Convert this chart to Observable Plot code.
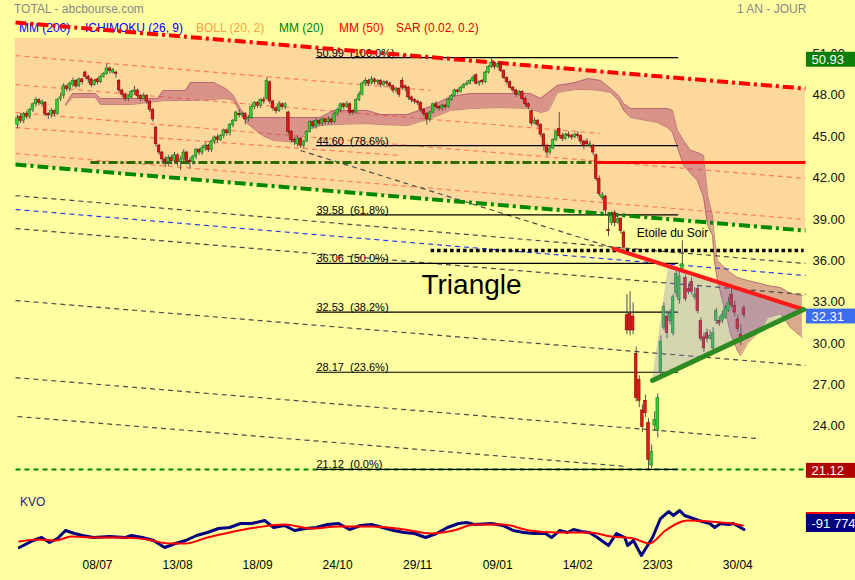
<!DOCTYPE html>
<html><head><meta charset="utf-8">
<script src="https://cdn.jsdelivr.net/npm/d3@7"></script>
<script src="https://cdn.jsdelivr.net/npm/@observablehq/plot@0.6"></script>
<style>
html,body{margin:0;padding:0;background:#ffffa2;}
#wrap{position:relative;width:855px;height:580px;background:#ffffa2;font-family:"Liberation Sans",Arial,sans-serif;overflow:hidden;}
.lbl{position:absolute;font-size:12px;white-space:nowrap;line-height:14px;z-index:0;}
#main,#kvo{position:relative;z-index:1;}
#main svg,#kvo svg{display:block;}
</style></head><body>
<div id="wrap">
 <div class="lbl" style="left:14px;top:2px;color:#888">TOTAL - abcbourse.com</div>
 <div class="lbl" style="left:737px;top:2px;color:#888">1 AN - JOUR</div>
 <div class="lbl" style="left:19px;top:21px;color:#0000ff">MM (200)</div>
 <div class="lbl" style="left:85px;top:21px;color:#0000ff">ICHIMOKU (26, 9)</div>
 <div class="lbl" style="left:196px;top:21px;color:#ffa040">BOLL (20, 2)</div>
 <div class="lbl" style="left:279px;top:21px;color:#008000">MM (20)</div>
 <div class="lbl" style="left:339px;top:21px;color:#ff0000">MM (50)</div>
 <div class="lbl" style="left:396px;top:21px;color:#dd0000">SAR (0.02, 0.2)</div>
 <div class="lbl" style="left:20px;top:495px;color:#1a1a80">KVO</div>
 <div id="main"></div><div id="kvo"></div>
</div>
<script>
// ---- daily candles (trading-day index 0..236) ----
const opens = [46.1,46.7,46.4,46.9,46.7,47.2,47.6,47.9,47.6,47.7,
46.9,46.8,47.1,46.9,48.0,48.2,48.9,48.7,49.0,49.3,
48.9,49.4,49.9,49.6,49.4,49.0,49.4,49.2,49.6,49.8,
50.2,49.9,49.9,49.3,48.6,48.3,48.0,48.1,48.5,48.6,
48.2,48.0,48.2,47.8,47.2,45.9,44.6,44.1,43.6,43.4,
43.7,43.5,43.9,43.4,43.6,44.1,43.5,43.4,43.8,44.3,
44.1,44.4,44.6,44.3,44.9,45.2,45.0,45.3,45.7,45.5,
46.1,46.4,46.9,46.8,46.9,46.5,46.6,47.4,47.7,47.5,
47.9,48.0,49.2,47.8,47.3,47.1,47.6,47.4,47.0,45.6,
45.0,44.7,45.1,44.6,44.9,45.6,46.3,46.0,46.4,46.2,
46.5,46.3,46.5,46.3,46.9,47.2,47.6,47.4,47.6,47.1,
47.0,47.9,48.3,49.1,49.3,49.1,49.4,49.2,49.3,49.0,
49.2,49.1,48.9,48.6,48.7,49.3,48.9,48.8,48.1,47.9,
47.8,47.7,47.2,46.9,46.5,47.0,47.6,47.4,47.3,47.5,
47.4,47.9,48.2,48.6,48.5,48.8,49.0,49.1,49.3,49.7,
49.1,49.3,49.2,49.9,50.3,50.6,50.3,50.5,50.0,49.5,
49.2,48.8,48.6,48.3,48.5,48.0,47.6,47.1,46.2,46.4,
46.1,45.4,44.6,44.1,44.4,45.0,45.8,45.3,45.1,45.4,
45.3,45.2,45.4,45.3,44.9,44.9,44.6,44.6,43.9,42.2,
40.8,40.9,38.5,39.0,39.7,39.0,39.3,38.3,32.3,32.4,
32.2,29.5,27.6,25.4,26.1,24.5,21.4,24.3,23.9,28.2,
31.4,32.2,31.9,31.0,33.9,33.4,35.6,35.0,34.2,34.7,
33.6,34.2,31.9,30.7,31.0,30.6,29.9,31.9,31.9,31.9,
32.1,32.6,33.8,33.0,32.0,30.9,32.8];
const highs = [46.8,46.9,47.0,47.1,47.3,47.7,48.1,48.0,47.9,47.8,
47.0,47.3,47.2,48.0,48.4,49.1,49.0,49.2,49.5,49.4,
49.5,49.5,50.0,49.7,49.5,49.4,49.5,49.7,49.9,50.5,
50.3,50.2,50.0,49.4,48.7,48.4,48.3,48.6,48.9,48.7,
48.3,48.4,48.3,47.9,47.3,46.0,44.7,44.2,43.8,43.9,
43.9,44.1,44.0,43.8,44.3,44.2,43.7,43.9,44.4,44.4,
44.6,44.8,44.7,45.0,45.3,45.4,45.4,45.8,45.8,46.2,
46.5,47.1,47.2,47.0,47.0,46.8,47.5,47.8,47.8,48.0,
48.1,49.5,49.3,47.9,47.4,47.8,47.7,47.7,47.1,45.7,
45.2,45.3,45.2,45.0,45.7,46.4,46.4,46.6,46.5,46.6,
46.6,46.7,46.6,47.0,47.3,47.7,47.7,47.8,47.7,47.2,
48.0,48.5,49.2,49.5,49.4,49.6,49.5,49.4,49.4,49.3,
49.3,49.2,49.0,48.8,48.8,49.5,49.0,48.9,48.2,48.0,
47.9,47.8,47.3,47.0,47.1,47.7,47.8,47.5,47.6,47.6,
48.0,48.3,48.7,48.7,48.9,49.1,49.3,49.4,49.7,49.8,
49.3,49.4,50.0,50.4,50.99,50.7,50.6,50.6,50.1,49.6,
49.3,48.9,48.7,48.6,48.6,48.1,47.7,47.2,46.6,46.5,
46.2,45.5,44.7,44.6,45.1,45.7,47.0,45.5,45.5,45.6,
45.4,45.5,45.6,45.4,45.0,45.1,44.9,44.7,44.0,42.4,
41.2,41.0,39.6,39.8,39.9,39.6,39.4,38.4,33.8,34.0,
33.2,30.0,27.9,25.8,26.5,24.8,22.9,25.3,26.6,30.8,
33.2,32.6,32.7,33.8,35.5,35.6,37.7,35.2,34.6,35.0,
34.3,34.5,32.1,31.0,31.3,31.2,31.4,32.8,32.2,32.6,
33.0,33.6,34.5,33.3,32.3,31.6,33.0];
const lows = [45.8,46.2,46.2,46.5,46.5,47.0,47.4,47.5,47.4,46.7,
46.5,46.6,46.7,46.8,47.8,48.0,48.5,48.5,48.8,48.7,
48.8,49.0,49.4,49.1,48.8,48.9,49.0,49.1,49.5,49.7,
49.8,49.8,49.5,48.4,48.1,47.8,47.8,48.0,48.3,48.0,
47.8,47.9,47.6,47.0,46.3,44.5,43.9,43.3,43.0,43.1,
43.2,43.3,43.1,42.8,43.4,43.2,42.9,43.2,43.6,43.9,
43.9,44.2,44.1,44.1,44.7,44.8,44.9,45.1,45.3,45.3,
45.9,46.3,46.6,46.6,46.1,46.3,46.5,47.2,47.3,47.3,
47.6,47.9,47.6,47.1,46.9,47.0,47.2,47.2,45.4,44.8,
44.6,44.5,44.4,44.4,44.8,45.5,45.8,45.8,46.0,46.0,
46.1,46.1,46.1,46.2,46.7,47.0,47.2,47.3,46.8,46.8,
46.9,47.8,48.2,48.9,48.9,49.0,49.0,49.0,48.8,48.9,
48.9,48.7,48.4,48.4,48.1,48.6,48.5,47.9,47.7,47.6,
47.5,47.0,46.7,46.1,46.3,46.9,47.2,47.1,47.1,47.2,
47.3,47.8,48.1,48.3,48.4,48.7,48.9,49.0,49.2,49.0,
48.9,49.0,49.1,49.8,50.2,50.1,50.2,49.9,49.4,49.0,
48.7,48.4,48.1,48.2,47.9,47.4,47.2,46.0,46.1,45.9,
45.2,44.2,43.8,43.9,44.3,44.9,45.1,44.9,45.0,45.1,
45.0,45.1,45.1,44.7,44.3,44.5,44.4,43.9,42.0,40.9,
40.6,39.6,38.0,38.8,38.7,38.9,38.2,36.9,30.9,30.8,
30.9,26.0,25.6,23.8,24.9,21.12,21.2,23.9,23.4,27.8,
31.2,30.6,31.6,30.8,33.6,33.1,35.5,33.3,33.8,33.8,
33.4,32.4,30.4,29.6,30.3,30.5,29.5,31.6,31.5,31.7,
32.0,32.5,32.8,32.2,31.1,30.1,32.1];
const closes = [46.6,46.4,46.9,46.7,47.2,47.6,47.9,47.7,47.8,46.9,
46.8,47.1,46.9,47.9,48.1,48.9,48.7,49.1,49.3,48.9,
49.4,49.2,49.6,49.4,49.0,49.3,49.2,49.6,49.8,50.2,
50.0,50.1,49.8,48.6,48.3,48.0,48.2,48.5,48.6,48.2,
48.0,48.2,47.8,47.2,46.5,44.7,44.1,43.6,43.4,43.7,
43.5,43.9,43.4,43.6,44.1,43.5,43.4,43.8,44.3,44.1,
44.4,44.6,44.3,44.9,45.2,45.0,45.3,45.7,45.5,46.1,
46.4,47.0,46.8,46.9,46.5,46.6,47.4,47.7,47.5,47.9,
47.8,49.3,47.8,47.3,47.1,47.6,47.4,47.6,45.6,45.0,
44.9,45.1,44.6,44.9,45.6,46.3,46.0,46.4,46.2,46.5,
46.3,46.5,46.3,46.9,47.2,47.6,47.4,47.6,47.0,47.0,
47.9,48.3,49.1,49.3,49.1,49.4,49.2,49.3,49.0,49.2,
49.1,48.9,48.6,48.7,48.3,48.8,48.8,48.1,47.9,47.8,
47.7,47.2,46.9,46.5,47.0,47.6,47.4,47.3,47.5,47.4,
47.9,48.2,48.6,48.5,48.8,49.0,49.1,49.3,49.5,49.1,
49.2,49.2,49.9,50.3,50.6,50.3,50.5,50.0,49.5,49.2,
48.8,48.6,48.3,48.5,48.0,47.6,47.4,46.2,46.4,46.1,
45.4,44.6,44.1,44.4,45.0,45.6,45.3,45.1,45.4,45.3,
45.2,45.4,45.3,44.9,44.6,44.7,44.7,44.1,42.2,41.1,
41.0,39.9,38.4,39.5,39.0,39.3,38.4,37.2,31.2,31.2,
31.2,26.3,26.1,24.2,25.2,21.8,22.4,24.7,26.3,30.4,
32.9,31.0,32.4,33.6,35.3,35.1,36.0,33.5,34.0,34.0,
33.8,32.6,30.6,29.9,30.6,30.8,31.0,32.6,31.7,32.3,
32.8,33.2,33.0,32.5,31.3,30.5,32.31];

// ---- x axis (tick every 26 sessions) ----
const tickIdx = [26,52,78,104,130,156,182,208,234];
const tickLabels = ["08/07","13/08","18/09","24/10","29/11","09/01","14/02","23/03","30/04"];

// ---- Ichimoku cloud vertices (index, top, bottom) ----
const cloudIdx = [15.6,17.9,25.3,27.0,36.7,45.5,47.4,54.6,56.2,63.7,67.6,70.2,72.4,74.7,79.6,83.2,91.9,93.6,98.4,102.7,113.7,117.9,126.7,134.2,140.7,147.2,156.9,166.7,169.9,172.5,175.4,181.3,185.5,189.4,192.7,195.3,196.9,199.2,207.9,211.2,212.8,214.4,216.4,218.7,220.9,222.9,224.2,225.8,226.4,227.4,229.0,230.7,231.6,233.9,234.9,237.2,241.4,243.7,247.9,251.1,255.0];
const cloudTop = [47.58,48.38,48.38,48.02,48.02,48.02,48.60,48.60,49.18,49.18,48.74,48.23,47.29,46.64,46.64,46.64,46.64,46.64,46.64,47.15,47.15,46.86,46.86,47.44,48.16,48.38,48.38,48.38,48.02,48.45,48.96,49.18,49.47,49.32,48.74,48.23,47.65,47.29,47.29,47.29,47.15,45.70,44.97,44.25,44.10,43.88,40.98,39.53,38.08,36.27,35.91,35.54,35.40,35.04,34.97,34.82,34.60,34.46,34.31,33.88,33.73];
const cloudBot = [47.51,48.09,48.09,47.58,47.58,47.80,47.87,47.87,47.87,47.94,48.02,47.87,47.00,46.20,45.33,44.97,44.83,45.70,46.06,46.13,46.20,46.13,46.06,46.57,47.15,47.29,47.36,47.29,47.00,47.15,48.45,48.67,48.67,48.60,48.45,47.87,47.15,46.64,46.28,45.91,45.55,44.46,43.16,42.58,42.07,40.84,38.81,38.08,36.27,34.82,33.37,31.92,30.98,29.74,29.38,30.25,31.19,32.13,32.42,31.41,30.69];

// ---- drawn trend lines [x1, price1, x2, price2] ----
const channelTop = [-0.65,53.53,256,48.74];
const channelBottom = [-0.65,43.23,256,38.44];
const salmonLines = [[-0.65,51.13,134.2,48.60],[-0.65,49.03,189.4,45.48],[-0.65,47.00,256,42.22],[-0.65,44.03,256,39.24],[-0.65,45.91,124.4,43.88]];
const grayLines = [[-0.65,40.98,256,36.05],[-0.65,38.59,256,33.80],[-0.65,33.37,256,28.66],[-0.65,27.78,240.4,23.36],[0,24.96,198.2,21.33],[91.9,44.25,194.3,37.14]];
const blueLines = [[-0.65,39.97,256,35.18]];
const levelGreen = [[23.7,43.38,188.4,43.38]];
const levelRed = [[188.4,43.38,256,43.38]];
const dottedLevel = [[134.2,36.99,255.4,36.99]];
const supportLevel = [[-0.65,21.12,256,21.12]];
const triRed = [[193.6,37.14,255.4,32.72]];
const triGreen = [[206.3,27.57,255.4,32.72]];
const triApexX = 211.5;

// ---- Fibonacci retracement ----
const fibLevels = [50.99,44.60,39.58,36.06,32.53,28.17,21.12];
const fibPct = ["100.0%","78.6%","61.8%","50.0%","38.2%","23.6%","0.0%"];
const fibFrom = 97.1, fibTo = 214.8;

// ---- right axis ----
const priceTicks = [24,27,30,33,36,39,42,45,48,51];
const valueBoxes = [{v:50.93,color:"#0b7d0b"},{v:32.31,color:"#3d6ef0"},{v:21.12,color:"#b00000"}];

// ---- KVO ----
const kvoIdx = [0.6,5.1,7.8,10.4,13.0,15.6,18.5,21.1,24.7,29.9,35.1,37.0,40.6,44.2,47.8,51.3,54.6,58.2,61.7,65.3,68.9,72.5,76.1,80.3,83.2,86.7,90.0,93.6,97.1,100.7,104.3,107.9,111.4,115.0,118.6,122.2,125.7,129.0,132.6,136.1,139.7,143.3,145.9,148.5,154.0,157.6,161.1,164.4,168.0,171.5,173.5,176.1,178.7,180.6,183.2,185.8,188.4,192.0,194.6,197.3,198.2,200.1,202.7,204.3,206.3,208.9,211.5,213.1,215.1,216.7,218.6,221.3,224.9,226.5,228.4,231.0,232.6,236];
const kvoVal = [-812,-532,-412,-612,-452,-132,-252,-332,-412,-372,-412,-332,-412,-532,-812,-652,-532,-332,-212,-52,-12,148,148,268,-12,68,-132,-52,-12,108,148,-92,68,108,-12,-132,-212,-252,-412,-252,-12,148,188,108,148,68,-132,-212,-252,-252,-412,-132,-212,-92,-172,-212,-412,-732,-252,-412,-732,-532,-1132,-812,-412,348,628,468,668,468,388,268,148,-12,148,108,148,-92];
const sigIdx = [0.6,6.8,12.4,17.5,24.7,33.5,42.2,49.4,54.6,61.7,68.9,77.7,86.7,95.5,104.3,115.0,125.7,134.5,141.7,148.5,157.6,166.4,175.1,185.8,193.0,200.1,205.3,210.5,217.7,224.9,232.0,235.6];
const sigVal = [-572,-492,-532,-372,-412,-412,-492,-652,-652,-412,-212,-12,108,-52,28,28,-92,-252,-132,108,108,-132,-212,-212,-372,-452,-652,-132,268,228,148,68];
const kvoLast = "-91 774";

// ================= build =================
const FONT = '"Liberation Sans", Arial, sans-serif';
const X0 = 0, X1 = 256, YMIN = 20.32, YMAX = 52.37;
const candles = closes.map((c,i)=>({i, o:opens[i], c, h:Math.max(highs[i],opens[i],c), l:Math.min(lows[i],opens[i],c)}));
const cloud = cloudIdx.map((x,i)=>({x, top:cloudTop[i], bot:cloudBot[i]}));
const at = (L,x)=> L[1] + (x-L[0])/(L[2]-L[0])*(L[3]-L[1]);
const xCross = channelTop[0] + (channelTop[1]-YMAX)/(channelTop[1]-channelTop[3])*(channelTop[2]-channelTop[0]);
const channelFill = [channelTop[0], xCross, channelTop[2]].map(x=>({x, hi:Math.min(YMAX, at(channelTop,x)), lo:at(channelBottom,x)}));
const tr = triRed[0], tg = triGreen[0];
const triFill = [
  {x:tg[0], lo:tg[1], hi:tg[1]},
  {x:triApexX, lo:at(tg,triApexX), hi:at(tr,triApexX)},
  {x:tg[2], lo:tg[3], hi:tg[3]}];
const lk = (data, o) => Plot.link(data, {x1:d=>d[0], y1:d=>d[1], x2:d=>d[2], y2:d=>d[3], ...o});
const up = d => d.c >= d.o;

const main = Plot.plot({
  width:855, height:480, marginLeft:17, marginRight:50, marginTop:38, marginBottom:0,
  x:{domain:[X0,X1], axis:null}, y:{domain:[YMIN,YMAX], axis:null},
  style:{background:"transparent", fontFamily:FONT, overflow:"visible"},
  marks:[
    Plot.areaY(channelFill, {x:"x", y1:"lo", y2:"hi", fill:"#fdd89c"}),
    lk(salmonLines, {stroke:"#ff7a5e", strokeWidth:1.2, strokeDasharray:"5,4"}),
    Plot.areaY(cloud, {x:"x", y1:"bot", y2:"top", fill:"#b04070", fillOpacity:0.45}),
    Plot.line(cloud, {x:"x", y:"top", stroke:"#a04a62", strokeWidth:1, strokeOpacity:0.6}),
    Plot.line(cloud, {x:"x", y:"bot", stroke:"#a04a62", strokeWidth:1, strokeOpacity:0.6}),
    lk(grayLines, {stroke:"#4a4a4a", strokeWidth:1.2, strokeDasharray:"5,4"}),
    lk(blueLines, {stroke:"#2233ee", strokeWidth:1.2, strokeDasharray:"5,4"}),
    lk(supportLevel, {stroke:"#008a00", strokeWidth:2, strokeDasharray:"5,4"}),
    Plot.ruleY(fibLevels, {x1:()=>fibFrom, x2:()=>fibTo, stroke:"#000", strokeWidth:1.2}),
    Plot.text(fibLevels, {x:()=>fibFrom, y:d=>d, text:(d,i)=>d.toFixed(2)+"\u00a0\u00a0("+fibPct[i]+")", textAnchor:"start", lineAnchor:"bottom", dy:-1, fontSize:11, fill:"#000"}),
    lk([channelTop], {stroke:"#ff0000", strokeWidth:4, strokeDasharray:"11,4,3,4"}),
    lk([channelBottom], {stroke:"#008800", strokeWidth:4, strokeDasharray:"11,4,3,4"}),
    lk(levelGreen, {stroke:"#2d6a00", strokeWidth:3, strokeDasharray:"9,3,3,3"}),
    lk(levelRed, {stroke:"#ff0000", strokeWidth:3}),
    lk(dottedLevel, {stroke:"#000", strokeWidth:3.5, strokeDasharray:"3.5,3"}),
    Plot.ruleX(candles, {x:"i", y1:"l", y2:"h", stroke:"#505050", strokeWidth:1}),
    Plot.rect(candles, {x1:d=>d.i-0.42, x2:d=>d.i+0.42, y1:d=>Math.min(d.o,d.c), y2:d=>Math.max(d.o,d.c),
      fill:d=>up(d)?"#33cc33":"#e01818", stroke:d=>up(d)?"#1d7a1d":"#8c0000", strokeWidth:0.6}),
    Plot.areaY(triFill, {x:"x", y1:"lo", y2:"hi", fill:"#7c7cc8", fillOpacity:0.32}),
    lk(triRed, {stroke:"#ff1a1a", strokeWidth:4, strokeLinecap:"round"}),
    lk(triGreen, {stroke:"#2e8b22", strokeWidth:5, strokeLinecap:"round"}),
    Plot.text(["Triangle"], {x:()=>147.5, y:()=>34.46, text:d=>d, fontSize:28, fill:"#000", textAnchor:"middle"}),
    Plot.text(["Etoile du Soir"], {x:()=>212.8, y:()=>38.23, text:d=>d, fontSize:12, fill:"#000", textAnchor:"middle"}),
    Plot.text(priceTicks, {x:()=>X1, y:d=>d, text:d=>d.toFixed(2), dx:7, dy:-3.5, textAnchor:"start", fontSize:13, fill:"#111"}),
    Plot.rect(valueBoxes, {x1:()=>256.3, x2:()=>272.6, y1:d=>d.v-0.64, y2:d=>d.v+0.44, fill:d=>d.color}),
    Plot.text(valueBoxes, {x:()=>X1, y:d=>d.v-0.1, text:d=>d.v.toFixed(2), dx:6, textAnchor:"start", fontSize:13, fill:"#fff"})
  ]
});
document.getElementById("main").appendChild(main);

const kvoPts = kvoIdx.map((x,i)=>({x, y:kvoVal[i]}));
const sigPts = sigIdx.map((x,i)=>({x, y:sigVal[i]}));
const labelMap = new Map(tickIdx.map((d,i)=>[d, tickLabels[i]]));
const kvo = Plot.plot({
  width:855, height:100, marginLeft:17, marginRight:50, marginTop:20, marginBottom:20,
  x:{domain:[X0,X1], axis:null}, y:{domain:[-1331.8,1068.2], axis:null},
  style:{background:"transparent", fontFamily:FONT, overflow:"visible"},
  marks:[
    Plot.line(kvoPts, {x:"x", y:"y", stroke:"#000080", strokeWidth:3}),
    Plot.line(sigPts, {x:"x", y:"y", stroke:"#ff0000", strokeWidth:2, curve:"monotone-x"}),
    Plot.text(tickIdx, {x:d=>d, frameAnchor:"bottom", dy:8, text:d=>labelMap.get(d), fontSize:12, fill:"#000"}),
    Plot.rect([0], {x1:()=>256.3, x2:()=>272.6, y1:()=>508, y2:()=>588, fill:"#ff0000"}),
    Plot.rect([0], {x1:()=>256.3, x2:()=>272.6, y1:()=>-212, y2:()=>508, fill:"#000080"}),
    Plot.text([kvoLast], {x:()=>X1, y:()=>148, text:d=>d, dx:6, textAnchor:"start", fontSize:13, fill:"#fff"})
  ]
});
document.getElementById("kvo").appendChild(kvo);
</script>
</body></html>
